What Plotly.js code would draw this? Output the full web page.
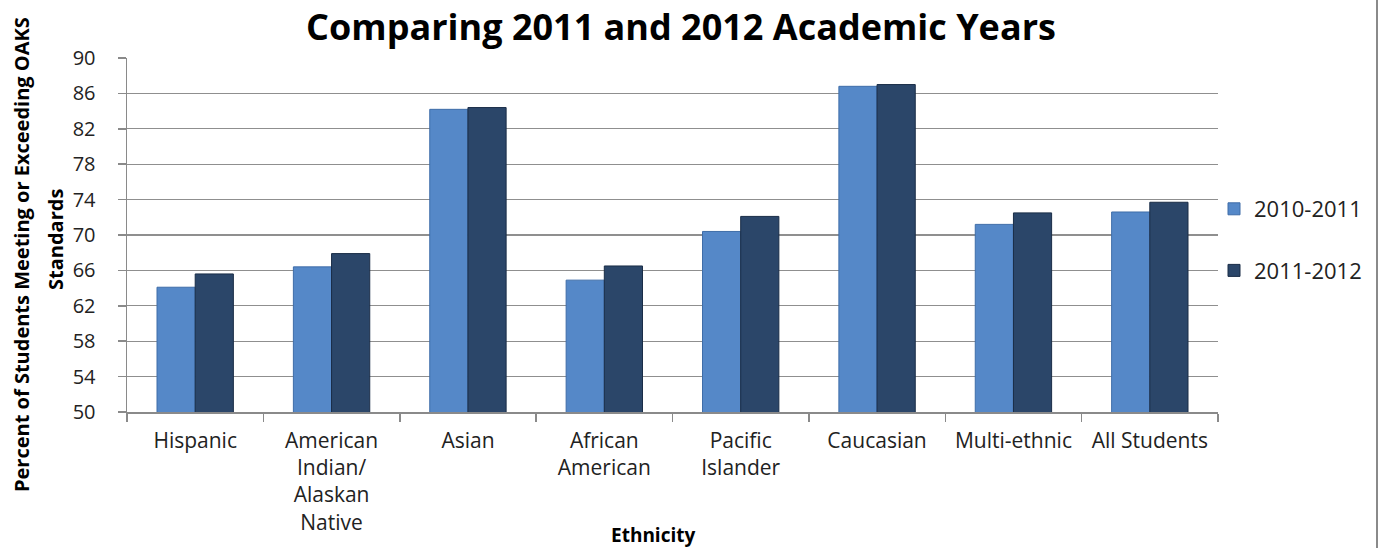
<!DOCTYPE html>
<html>
<head>
<meta charset="utf-8">
<script src="https://cdn.plot.ly/plotly-3.0.1.min.js"></script>
<style>html,body{margin:0;padding:0;background:#fff;}#chart{width:1384px;height:548px;}</style>
</head>
<body>
<div id="chart"></div>
<script>
const categories = ["Hispanic", "American<br>Indian/<br>Alaskan<br>Native", "Asian", "African<br>American", "Pacific<br>Islander", "Caucasian", "Multi-ethnic", "All Students"];
const series2011 = [64.1, 66.4, 84.2, 64.9, 70.4, 86.8, 71.2, 72.6];
const series2012 = [65.6, 67.9, 84.4, 66.5, 72.1, 87.0, 72.5, 73.7];
const seriesNames = ["2010-2011", "2011-2012"];
const yTicks = [50, 54, 58, 62, 66, 70, 74, 78, 82, 86, 90];

const FONT = "Open Sans, Lato, sans-serif";
const L = 127, R = 1218, T = 58, B = 412, W = 1384, H = 548;
const pw = R - L, ph = B - T;
const px = x => (x - L) / pw;
const py = y => (B - y) / ph;

const traces = [
  {type: "bar", name: seriesNames[0], x: categories, y: series2011, legendgroup: "a",
   marker: {color: "#5588C8", line: {color: "#3F6DA8", width: 1}}},
  {type: "bar", name: seriesNames[1], x: categories, y: series2012, legendgroup: "b",
   marker: {color: "#2B4669", line: {color: "#1A2D47", width: 1}}}
];

const layout = {
  width: W, height: H,
  margin: {l: L, r: W - R, t: T, b: H - B, pad: 0},
  paper_bgcolor: "#ffffff", plot_bgcolor: "#ffffff",
  font: {family: FONT, color: "#222"},
  barmode: "group", bargap: 0.44, bargroupgap: 0,
  title: {text: "<b>Comparing 2011 and 2012 Academic Years</b>", font: {family: FONT, size: 36, color: "#000"},
          x: 681 / W, xanchor: "center", xref: "container", y: 1 - 27 / H, yref: "container", yanchor: "middle"},
  xaxis: {type: "category", showline: true, linecolor: "#8a8a8a", linewidth: 1.5,
          ticks: "outside", tickson: "boundaries", ticklen: 8, tickcolor: "#8a8a8a", tickwidth: 1.5,
          ticklabelstandoff: 9,
          tickfont: {family: FONT, size: 21, color: "#222"}, showgrid: false, fixedrange: true},
  yaxis: {range: [50, 90], tickvals: yTicks, ticktext: yTicks.map(String), showline: true, linecolor: "#8a8a8a", linewidth: 1.5,
          ticks: "outside", ticklen: 8, tickcolor: "#8a8a8a", tickwidth: 1.5, ticklabelstandoff: 18,
          showgrid: true, gridcolor: "#8f8f8f", gridwidth: 1.2, zeroline: false,
          tickfont: {family: FONT, size: 20, color: "#222"}, fixedrange: true},
  legend: {x: px(1214), xanchor: "left", y: py(240), yanchor: "middle", traceorder: "grouped", tracegroupgap: 30,
           font: {family: FONT, size: 22, color: "#222"}, bgcolor: "rgba(0,0,0,0)", itemwidth: 30},
  annotations: [
    {text: "<b>Ethnicity</b>", xref: "paper", yref: "paper", x: px(653), y: py(535), xanchor: "center", yanchor: "middle",
     showarrow: false, font: {family: FONT, size: 19, color: "#000"}},
    {text: "<b>Percent of Students Meeting or Exceeding OAKS</b>", xref: "paper", yref: "paper", x: px(22), y: py(255),
     xanchor: "center", yanchor: "middle", textangle: -90, showarrow: false, font: {family: FONT, size: 20, color: "#000"}},
    {text: "<b>Standards</b>", xref: "paper", yref: "paper", x: px(55), y: py(240),
     xanchor: "center", yanchor: "middle", textangle: -90, showarrow: false, font: {family: FONT, size: 20, color: "#000"}}
  ],
  shapes: [
    {type: "line", xref: "paper", yref: "paper", x0: px(1377), x1: px(1377), y0: py(H), y1: py(0),
     line: {color: "#8a8a8a", width: 2}}
  ]
};

Plotly.newPlot("chart", traces, layout, {displayModeBar: false, staticPlot: true});
</script>
</body>
</html>
